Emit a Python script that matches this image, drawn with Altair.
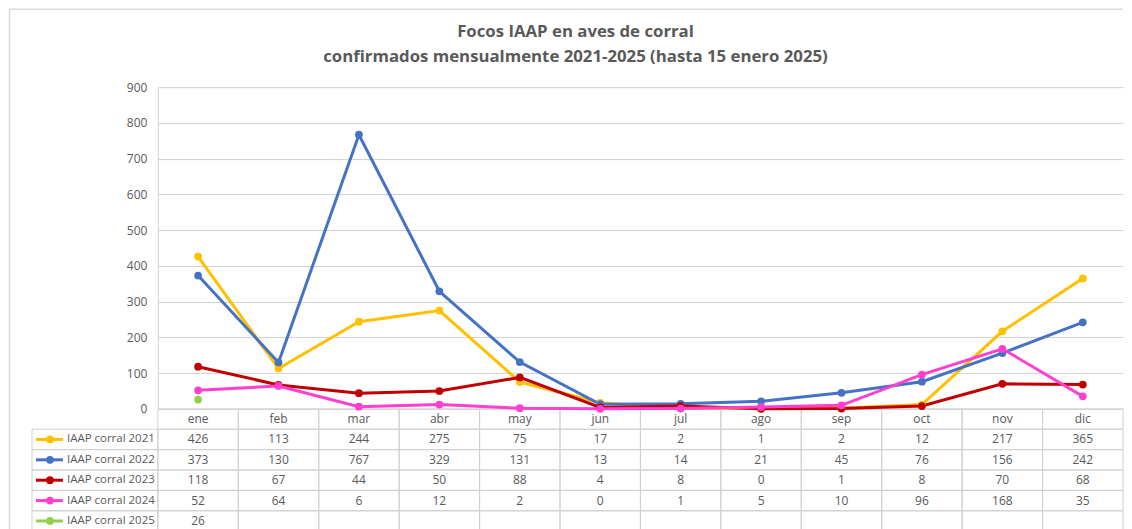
import altair as alt
import pandas as pd

months = ["ene", "feb", "mar", "abr", "may", "jun", "jul", "ago", "sep", "oct", "nov", "dic"]
series_names = ["IAAP corral 2021", "IAAP corral 2022", "IAAP corral 2023",
                "IAAP corral 2024", "IAAP corral 2025"]
v2021 = [426, 113, 244, 275, 75, 17, 2, 1, 2, 12, 217, 365]
v2022 = [373, 130, 767, 329, 131, 13, 14, 21, 45, 76, 156, 242]
v2023 = [118, 67, 44, 50, 88, 4, 8, 0, 1, 8, 70, 68]
v2024 = [52, 64, 6, 12, 2, 0, 1, 5, 10, 96, 168, 35]
v2025 = [26]
colors = ["#FFC000", "#4472C4", "#C00000", "#FF3FCF", "#92D050"]
y_ticks = [0, 100, 200, 300, 400, 500, 600, 700, 800, 900]
title_lines = ["Focos IAAP en aves de corral",
               "confirmados mensualmente 2021-2025 (hasta 15 enero 2025)"]

values = [v2021, v2022, v2023, v2024, v2025]

line_rows = []
for s, vals in zip(series_names, values):
    for m, v in zip(months, vals):
        line_rows.append({"series": s, "month": m, "value": v})
line_df = pd.DataFrame(line_rows)

HEADER = " "
row_domain = [HEADER] + series_names
cells = []
for r in row_domain:
    for i, m in enumerate(months):
        if r == HEADER:
            txt = m
        else:
            vals = values[series_names.index(r)]
            txt = str(vals[i]) if i < len(vals) else ""
        cells.append({"row": r, "month": m, "text": txt})
cell_df = pd.DataFrame(cells)
legend_df = pd.DataFrame({"row": series_names, "series": series_names})

FONT = "Open Sans"
TXT = "#595959"
GRID = "#d0d0d0"
W, PH, RH = 966, 322, 20.4
TH = RH * 6

x_scale = alt.Scale(type="band", domain=months, paddingInner=0, paddingOuter=0)
y_val = alt.Scale(domain=[0, 900], range=[PH, 0], nice=False)
y_row = alt.Scale(type="band", domain=row_domain, range=[PH, PH + TH],
                  paddingInner=0, paddingOuter=0)
color_scale = alt.Scale(domain=series_names, range=colors)

one = alt.Data(values=[{}])

border_top = alt.Chart(one).mark_rule(stroke="#d9d9d9", strokeWidth=1.5).encode(
    x=alt.value(-148.5), x2=alt.value(W), y=alt.value(-78)
)
border_left = alt.Chart(one).mark_rule(stroke="#d9d9d9", strokeWidth=1.5).encode(
    x=alt.value(-148.5), y=alt.value(-78), y2=alt.value(PH + TH)
)

title1 = alt.Chart(one).mark_text(font=FONT, fontSize=16.8, fontWeight="bold", color=TXT).encode(
    x=alt.value(418), y=alt.value(-55), text=alt.value(title_lines[0])
)
title2 = alt.Chart(one).mark_text(font=FONT, fontSize=16.8, fontWeight="bold", color=TXT).encode(
    x=alt.value(418), y=alt.value(-30), text=alt.value(title_lines[1])
)

lines = alt.Chart(line_df).mark_line(
    strokeWidth=3, point=alt.OverlayMarkDef(filled=True, size=60, opacity=1)
).encode(
    x=alt.X("month:N", scale=x_scale, bandPosition=0.5, axis=None),
    y=alt.Y("value:Q", scale=y_val,
            axis=alt.Axis(values=y_ticks, grid=True, gridColor=GRID, ticks=False,
                          domain=True, domainColor=GRID, labelColor=TXT, labelFont=FONT,
                          labelFontSize=12, labelPadding=11, title=None)),
    color=alt.Color("series:N", scale=color_scale, legend=None),
)

cell_rect = alt.Chart(cell_df).mark_rect(filled=False, stroke=GRID, strokeWidth=1).encode(
    x=alt.X("month:N", scale=x_scale, axis=None),
    y=alt.Y("row:N", scale=y_row, axis=None),
)
cell_text = alt.Chart(cell_df).mark_text(font=FONT, fontSize=12, color=TXT).encode(
    x=alt.X("month:N", scale=x_scale, bandPosition=0.5, axis=None),
    y=alt.Y("row:N", scale=y_row, bandPosition=0.5, axis=None),
    text="text:N",
)

leg_rect = alt.Chart(legend_df).mark_rect(filled=False, stroke=GRID, strokeWidth=1).encode(
    x=alt.value(-126), x2=alt.value(0),
    y=alt.Y("row:N", scale=y_row, axis=None),
)
leg_rule = alt.Chart(legend_df).mark_rule(strokeWidth=3).encode(
    x=alt.value(-122), x2=alt.value(-95),
    y=alt.Y("row:N", scale=y_row, bandPosition=0.5, axis=None),
    color=alt.Color("series:N", scale=color_scale, legend=None),
)
leg_pt = alt.Chart(legend_df).mark_circle(size=60, opacity=1).encode(
    x=alt.value(-108),
    y=alt.Y("row:N", scale=y_row, bandPosition=0.5, axis=None),
    color=alt.Color("series:N", scale=color_scale, legend=None),
)
leg_text = alt.Chart(legend_df).mark_text(font=FONT, fontSize=11.5, color=TXT, align="left").encode(
    x=alt.value(-91),
    y=alt.Y("row:N", scale=y_row, bandPosition=0.5, axis=None),
    text="series:N",
)

chart = alt.layer(
    border_top, border_left, title1, title2, cell_rect, cell_text,
    leg_rect, leg_rule, leg_pt, leg_text, lines
).resolve_scale(y="independent").properties(
    width=W, height=PH + TH, padding=0
).configure_view(stroke=None)

chart.save("out.html", embed_options={"renderer": "svg", "actions": False})
